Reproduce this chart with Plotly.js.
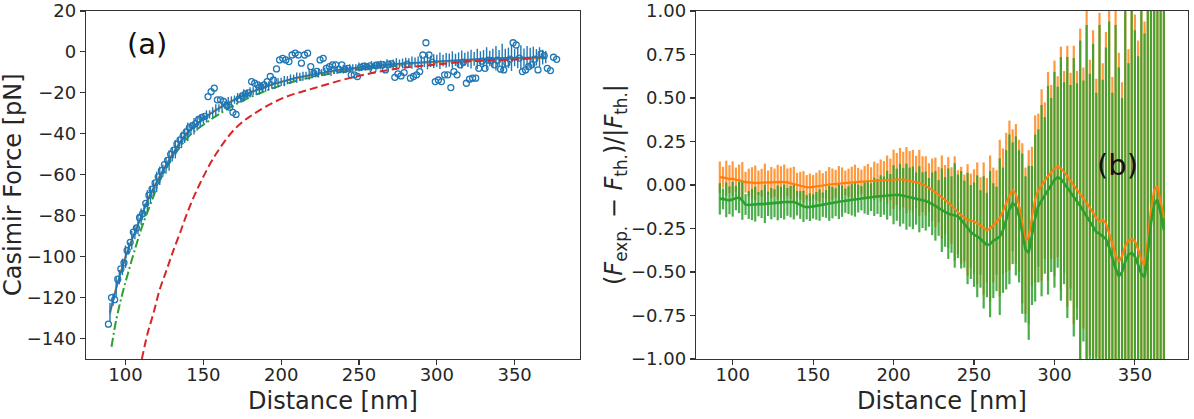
<!DOCTYPE html>
<html>
<head>
<meta charset="utf-8">
<script src="https://cdn.plot.ly/plotly-3.0.1.min.js"></script>
<style>
  html, body { margin: 0; padding: 0; background: #fff; }
  #chart { width: 1194px; height: 419px; }
</style>
</head>
<body>
<div id="chart"></div>
<script>
// ---------- panel (a): Casimir force vs distance ----------
// single scan (open circles)
const distScan = [89,91,93,95,97,99,101,103,105,107,109,111,113,115,117,119,121,123,125,127,
  129,131,133,135,137,139,141,143,145,147,149,151,153,155,157,159,161,163,165,167,
  169,171,173,175,177,179,181,183,185,187,189,191,193,195,197,199,201,203,205,207,
  209,211,213,215,217,219,221,223,225,227,229,231,233,235,237,239,241,243,245,247,
  249,251,253,255,257,259,261,263,265,267,269,271,273,275,277,279,281,283,285,287,
  289,291,293,295,297,299,301,303,305,307,309,311,313,315,317,319,321,323,325,327,
  329,331,333,335,337,339,341,343,345,347,349,351,353,355,357,359,361,363,365,367,
  369,371,373,375,377];
const forceScan = [-133,-120,-121,-111,-106,-103,-97,-93,-88,-86,
  -81,-79,-74,-70,-67,-64,-61,-58,-55,-53,
  -50,-48,-45,-43,-41,-39,-37,-36,-35,-33,
  -32,-31.5,-21.8,-19.4,-17.7,-23.4,-23.4,-24.2,-26,-27,
  -29.5,-30.5,-23,-21.5,-20.5,-20,-14.5,-15.3,-16.1,-17,
  -16.1,-14.5,-12,-13.7,-8.3,-3.9,-3.1,-3.9,-4.7,-1.5,
  -0.6,-1.5,-5.5,-1.5,-0.6,-7.2,-10.5,-9.5,-3.9,-3.1,
  -8,-7.2,-6.3,-6.3,-8.5,-6.3,-8.5,-8,-11.2,-11.2,
  -12,-7.5,-7,-7.2,-6.8,-8.8,-6.5,-6.3,-6.2,-8.8,
  -6,-5.8,-12.4,-10.7,-11.7,-10.1,-6,-12.8,-12,-11.2,
  -9.6,-1.5,4.5,-1.5,-5,-14.5,-13.7,-14.5,-11.2,-11.2,
  -17.4,-9.6,-11.2,-6.3,-5,-15.3,-13.3,-12.8,-12.8,-8,
  -4.5,-8,-4,-4.2,-6.3,-4,-8.4,-8.8,-5.5,-3.5,
  4.5,3.4,-3,-9.6,-8.8,-7.2,-6.3,-3.5,-8.8,-1,
  -1.8,-8,-9.1,-2.6,-3.6];

// averaged force with its uncertainty
const distMean = [90,92,94,96,98,100,102,104,106,108,110,112,114,116,118,120,122,124,126,128,
  130,132,134,136,138,140,142,144,146,148,150,152,154,156,158,160,162,164,166,168,
  170,172,174,176,178,180,182,184,186,188,190,192,194,196,198,200,202,204,206,208,
  210,212,214,216,218,220,222,224,226,228,230,232,234,236,238,240,242,244,246,248,
  250,252,254,256,258,260,262,264,266,268,270,272,274,276,278,280,282,284,286,288,
  290,292,294,296,298,300,302,304,306,308,310,312,314,316,318,320,322,324,326,328,
  330,332,334,336,338,340,342,344,346,348,350,352,354,356,358,360,362,364,366,368,370];
const forceMean = [-127,-121,-115,-110,-105,-100,-96,-92,-88,-84,
  -80.5,-77,-73,-69.5,-66.5,-63.5,-60.5,-58,-55.5,-53,
  -50,-47.5,-45,-43,-41,-39,-37.5,-36.3,-35,-33.8,
  -32.5,-31.5,-30.5,-29.5,-28.5,-27.5,-26.6,-25.8,-25,-24.2,
  -23.3,-22.6,-21.9,-21.2,-20.5,-19.8,-19.2,-18.6,-18,-17.5,
  -17,-16.5,-16,-15.5,-15,-14.6,-14.2,-13.8,-13.3,-12.9,
  -12.5,-12.2,-11.9,-11.5,-11.2,-10.9,-10.6,-10.3,-10,-9.7,
  -9.5,-9.3,-9,-8.8,-8.6,-8.4,-8.2,-8,-7.8,-7.6,
  -7.4,-7.3,-7.2,-7,-6.8,-6.6,-6.5,-6.4,-6.2,-6.1,
  -6,-5.9,-5.8,-5.7,-5.6,-5.4,-5.3,-5.2,-5.1,-5,
  -4.9,-4.8,-4.7,-4.6,-4.5,-4.4,-4.3,-4.2,-4.1,-4,
  -3.9,-3.9,-3.8,-3.7,-3.6,-3.6,-3.5,-3.4,-3.4,-3.3,
  -3.3,-3.2,-3.2,-3.1,-3.1,-3,-3,-2.9,-2.9,-2.8,
  -2.8,-2.8,-2.7,-2.7,-2.7,-2.6,-2.6,-2.6,-2.5,-2.5,
  -2.5];
const forceErr = [4.5,3,5,3.5,4,5.5,3,4.5,3.5,5,
  4,3,5.5,4,3.5,5,4.5,3,4,5,
  3.5,4.5,3,4,3.5,4.5,3,4,3.5,3,
  2.5,3,2,2.5,3,2,2.5,2,3,2.5,
  2,2.5,2,3,2.2,2.5,2,2.4,2.8,2,
  2.5,2.2,2,2.6,2.2,2,2.5,2,2.3,1.8,
  2.5,2,2.2,1.8,2.4,2,1.8,2.2,1.6,2,
  1.8,2.4,1.6,2,1.8,2.2,1.7,2,1.8,1.6,
  2.2,1.8,2,1.6,2.4,1.8,2,2.2,1.8,2.5,
  2,2.2,2.8,2,2.4,2.6,2.2,3,2.4,2.8,
  3.2,2.6,3.8,2.8,3.4,3,4,2.8,3.6,3.2,
  4.2,3,3.6,4.4,3.2,3.8,4.6,3.4,5,3.6,
  4.2,5.5,3.8,4.6,6,4,7,4.4,5,6.5,
  4.2,5.2,6,4.4,5.6,4.6,5.2,4,4.8,3.6,
  3];

// theory curves
const distTheory = [90,93,96,100,105,110,115,120,125,130,135,140,150,160,170,180,190,200,215,230,245,260,280,300,320,340,360,370];
const forceTheory = [-128,-118,-110,-100,-90,-80.5,-71,-63.5,-56.5,-50,-44,-39,-32.5,-27.3,-23.2,-19.8,-17,-14.7,-12,-9.8,-8.3,-7,-5.8,-4.9,-4.2,-3.6,-3.1,-2.9];
const distDashDot = [91,94,98,102,107,111,117,121,130,141,152,163,175,190,205,220,240,260,280];
const forceDashDot = [-144,-131,-118,-107,-94,-84.5,-72.5,-64.5,-52,-41,-34.5,-29,-24,-19,-15.2,-12.3,-9.6,-7.8,-6.4];
const distDashed = [110.5,114,118,122,126.5,130,135,141,148,158,171,184,201,222,248,276,298,319,341,362];
const forceDashed = [-150,-138,-127.5,-116,-106.3,-98.5,-88.4,-76,-64,-50,-37,-29.5,-22.6,-17.5,-12,-8,-6.3,-4.7,-4,-3.2];

// ---------- panel (b): relative deviation ----------
const distRel = [92,94,96,98,100,102,104,106,108,110,112,114,116,118,120,122,124,126,128,130,
  132,134,136,138,140,142,144,146,148,150,152,154,156,158,160,162,164,166,168,170,
  172,174,176,178,180,182,184,186,188,190,192,194,196,198,200,202,204,206,208,210,
  212,214,216,218,220,222,224,226,228,230,232,234,236,238,240,242,244,246,248,250,
  252,254,256,258,260,262,264,266,268,270,272,274,276,278,280,282,284,286,288,290,
  292,294,296,298,300,302,304,306,308,310,312,314,316,318,320,322,324,326,328,330,
  332,334,336,338,340,342,344,346,348,350,352,354,356,358,360,362,364,366,368];
const relOrange = [0.045,0.044,0.040,0.034,0.036,0.030,0.028,0.022,0.016,0.014,
  0.012,0.012,0.013,0.013,0.013,0.013,0.014,0.015,0.016,0.018,
  0.018,0.015,0.010,0.005,0.000,-0.005,-0.010,-0.013,-0.014,-0.012,
  -0.009,-0.005,-0.002,0.000,0.003,0.005,0.007,0.009,0.011,0.013,
  0.014,0.015,0.017,0.018,0.019,0.020,0.021,0.022,0.024,0.025,
  0.027,0.028,0.030,0.032,0.033,0.034,0.033,0.031,0.028,0.025,
  0.022,0.018,0.012,0.005,-0.005,-0.015,-0.028,-0.042,-0.056,-0.070,
  -0.085,-0.100,-0.118,-0.135,-0.155,-0.175,-0.190,-0.200,-0.205,-0.210,
  -0.220,-0.235,-0.250,-0.260,-0.250,-0.230,-0.215,-0.190,-0.150,-0.100,
  -0.060,-0.030,-0.050,-0.120,-0.220,-0.320,-0.300,-0.180,-0.080,-0.030,
  0.000,0.025,0.050,0.075,0.095,0.105,0.095,0.075,0.050,0.025,
  0.000,-0.025,-0.050,-0.075,-0.100,-0.130,-0.160,-0.190,-0.210,-0.200,
  -0.220,-0.280,-0.330,-0.400,-0.440,-0.410,-0.350,-0.320,-0.310,-0.320,
  -0.370,-0.430,-0.460,-0.320,-0.140,-0.030,-0.005,-0.090,-0.190];
const relGreen = [-0.080,-0.080,-0.085,-0.088,-0.082,-0.075,-0.072,-0.090,-0.112,-0.115,
  -0.112,-0.110,-0.110,-0.110,-0.109,-0.108,-0.107,-0.105,-0.103,-0.100,
  -0.098,-0.097,-0.096,-0.098,-0.105,-0.115,-0.123,-0.128,-0.127,-0.123,
  -0.120,-0.116,-0.113,-0.109,-0.106,-0.102,-0.099,-0.096,-0.093,-0.090,
  -0.087,-0.085,-0.082,-0.078,-0.076,-0.074,-0.072,-0.070,-0.068,-0.066,
  -0.064,-0.061,-0.059,-0.057,-0.056,-0.056,-0.058,-0.062,-0.067,-0.070,
  -0.074,-0.078,-0.082,-0.087,-0.092,-0.100,-0.108,-0.120,-0.132,-0.145,
  -0.155,-0.165,-0.170,-0.175,-0.180,-0.200,-0.225,-0.250,-0.270,-0.285,
  -0.295,-0.310,-0.330,-0.345,-0.340,-0.320,-0.310,-0.297,-0.260,-0.200,
  -0.140,-0.105,-0.120,-0.180,-0.280,-0.370,-0.390,-0.290,-0.190,-0.120,
  -0.090,-0.060,-0.030,0.000,0.030,0.045,0.035,0.010,-0.015,-0.045,
  -0.070,-0.095,-0.120,-0.150,-0.180,-0.210,-0.240,-0.270,-0.280,-0.295,
  -0.310,-0.360,-0.420,-0.480,-0.525,-0.500,-0.440,-0.400,-0.390,-0.410,
  -0.460,-0.510,-0.530,-0.400,-0.220,-0.110,-0.085,-0.160,-0.260];
const relErr = [0.09,0.06,0.10,0.08,0.10,0.07,0.09,0.11,0.06,0.08,
  0.09,0.10,0.07,0.08,0.11,0.07,0.09,0.08,0.10,0.09,
  0.10,0.08,0.09,0.10,0.07,0.08,0.09,0.07,0.08,0.07,
  0.08,0.09,0.07,0.08,0.10,0.09,0.08,0.10,0.09,0.07,
  0.08,0.09,0.10,0.08,0.07,0.09,0.10,0.08,0.11,0.10,
  0.12,0.11,0.14,0.12,0.17,0.15,0.18,0.16,0.19,0.17,
  0.18,0.15,0.19,0.16,0.17,0.14,0.18,0.20,0.16,0.24,
  0.20,0.26,0.22,0.30,0.24,0.28,0.25,0.32,0.27,0.30,
  0.35,0.28,0.38,0.30,0.42,0.33,0.30,0.45,0.36,0.40,
  0.43,0.35,0.40,0.38,0.46,0.42,0.50,0.40,0.48,0.44,
  0.55,0.45,0.60,0.50,0.62,0.52,0.70,0.58,0.75,0.62,
  0.80,0.68,0.95,0.75,1.10,0.85,1.05,0.80,1.20,0.90,
  1.10,1.30,0.95,1.40,1.20,1.00,1.50,1.10,1.60,1.30,
  1.20,1.70,1.40,1.50,1.30,1.80,1.60,1.50,1.50];

const xTicks = [100,150,200,250,300,350];

// ---------- styling ----------
const C0 = '#1f77b4', C1 = '#ff7f0e', C2 = '#2ca02c', C3 = '#d62728';
const FONT = 'DejaVu Sans, Liberation Sans, sans-serif';
const INK = '#262626';
const W = 1194, TOP = 11, BOTTOM = 359;
const px2x = px => px / W;
const px2y = py => (BOTTOM - py) / (BOTTOM - TOP);

const traces = [
  // panel (a)
  { x: distTheory, y: forceTheory, xaxis: 'x', yaxis: 'y', mode: 'lines',
    line: { color: C1, width: 2, shape: 'spline' } },
  { x: distDashDot, y: forceDashDot, xaxis: 'x', yaxis: 'y', mode: 'lines',
    line: { color: C2, width: 2, dash: '9px,3px,2px,3px', shape: 'spline' } },
  { x: distScan, y: forceScan, xaxis: 'x', yaxis: 'y', mode: 'markers',
    marker: { symbol: 'circle-open', size: 6, color: C0, line: { width: 1.3, color: C0 } } },
  { x: distMean, y: forceMean, xaxis: 'x', yaxis: 'y', mode: 'lines',
    line: { color: C0, width: 1.6 },
    error_y: { type: 'data', array: forceErr, visible: true, color: C0, thickness: 1.4, width: 0 } },
  { x: distDashed, y: forceDashed, xaxis: 'x', yaxis: 'y', mode: 'lines',
    line: { color: C3, width: 2, dash: '8px,4px', shape: 'spline' } },

  // panel (b): bars first, centre lines on top
  { x: distRel, y: relOrange, xaxis: 'x2', yaxis: 'y2', mode: 'markers',
    marker: { size: 1, color: 'rgba(0,0,0,0)' },
    error_y: { type: 'data', array: relErr, visible: true, color: 'rgba(255,127,14,0.8)', thickness: 2.2, width: 0 } },
  { x: distRel, y: relGreen, xaxis: 'x2', yaxis: 'y2', mode: 'markers',
    marker: { size: 1, color: 'rgba(0,0,0,0)' },
    error_y: { type: 'data', array: relErr, visible: true, color: 'rgba(44,160,44,0.85)', thickness: 2.2, width: 0 } },
  { x: distRel, y: relOrange, xaxis: 'x2', yaxis: 'y2', mode: 'lines',
    line: { color: C1, width: 2.2 } },
  { x: distRel, y: relGreen, xaxis: 'x2', yaxis: 'y2', mode: 'lines',
    line: { color: C2, width: 2.6 } }
];

const axisCommon = {
  showline: true, mirror: true, linecolor: '#333', linewidth: 1.2,
  ticks: 'outside', ticklen: 5, tickwidth: 1.1, tickcolor: '#333',
  showgrid: false, zeroline: false,
  tickfont: { family: FONT, size: 18, color: INK }
};

const layout = {
  width: W, height: 419,
  margin: { l: 0, r: 0, t: TOP, b: 419 - BOTTOM },
  paper_bgcolor: '#fff', plot_bgcolor: '#fff',
  showlegend: false,
  font: { family: FONT, color: INK },
  xaxis: Object.assign({}, axisCommon, {
    domain: [px2x(86), px2x(580)], range: [74.6, 392], anchor: 'y',
    tickmode: 'array', tickvals: xTicks, ticklabelstandoff: -6
  }),
  yaxis: Object.assign({}, axisCommon, {
    domain: [0, 1], range: [-150, 20], anchor: 'x',
    tickmode: 'linear', tick0: 0, dtick: 20
  }),
  xaxis2: Object.assign({}, axisCommon, {
    domain: [px2x(696), px2x(1188)], range: [77.2, 383], anchor: 'y2',
    tickmode: 'array', tickvals: xTicks, ticklabelstandoff: -6
  }),
  yaxis2: Object.assign({}, axisCommon, {
    domain: [0, 1], range: [-1, 1], anchor: 'x2',
    tickmode: 'linear', tick0: 0, dtick: 0.25, tickformat: '.2f'
  }),
  annotations: [
    { text: '(a)', xref: 'paper', yref: 'paper', x: px2x(147), y: px2y(44),
      xanchor: 'center', yanchor: 'middle', showarrow: false,
      font: { family: FONT, size: 29, color: '#111' } },
    { text: '(b)', xref: 'paper', yref: 'paper', x: px2x(1117), y: px2y(165),
      xanchor: 'center', yanchor: 'middle', showarrow: false,
      font: { family: FONT, size: 29, color: '#111' } },
    { text: 'Casimir Force [pN]', xref: 'paper', yref: 'paper', x: px2x(13), y: px2y(185),
      xanchor: 'center', yanchor: 'middle', textangle: -90, showarrow: false,
      font: { family: FONT, size: 24, color: INK } },
    { text: 'Distance [nm]', xref: 'paper', yref: 'paper', x: px2x(333), y: px2y(401),
      xanchor: 'center', yanchor: 'middle', showarrow: false,
      font: { family: FONT, size: 24, color: INK } },
    { text: 'Distance [nm]', xref: 'paper', yref: 'paper', x: px2x(942), y: px2y(401),
      xanchor: 'center', yanchor: 'middle', showarrow: false,
      font: { family: FONT, size: 24, color: INK } },
    { text: '(<i>F</i><sub>exp.</sub> − <i>F</i><sub>th.</sub>)/|<i>F</i><sub>th.</sub>|',
      xref: 'paper', yref: 'paper', x: px2x(615), y: px2y(185),
      xanchor: 'center', yanchor: 'middle', textangle: -90, showarrow: false,
      font: { family: FONT, size: 24, color: INK } }
  ]
};

Plotly.newPlot('chart', traces, layout, { staticPlot: true, displayModeBar: false });
</script>
</body>
</html>
